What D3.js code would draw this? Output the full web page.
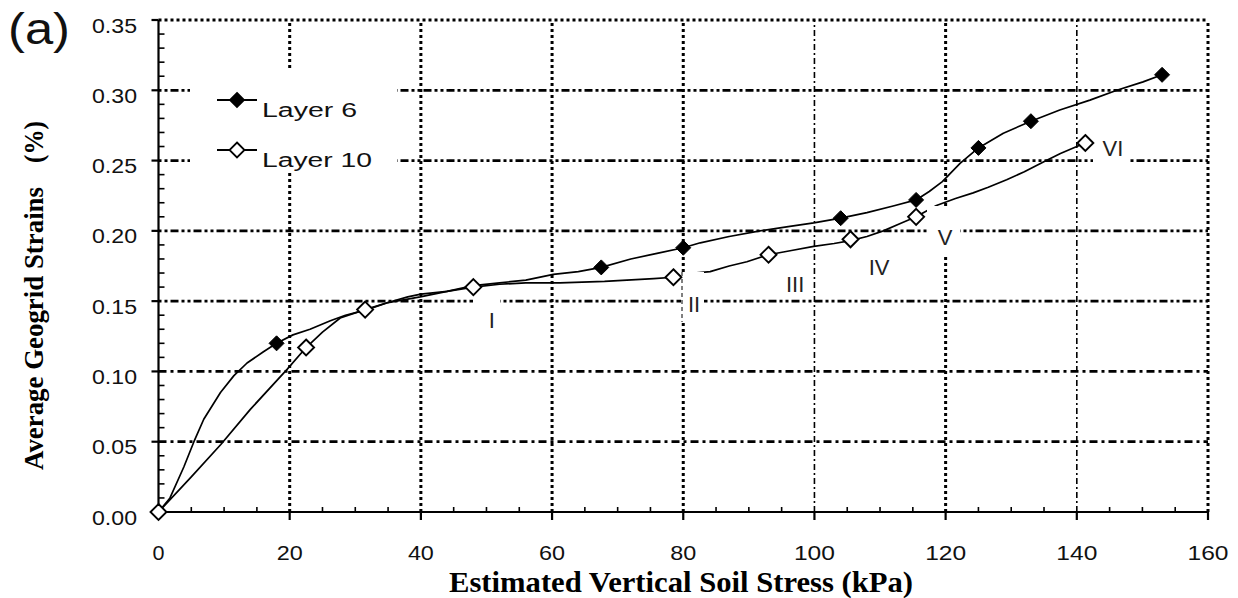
<!DOCTYPE html>
<html><head><meta charset="utf-8">
<script src="https://cdn.jsdelivr.net/npm/d3@7"></script>
<style>body{margin:0;background:#fff}svg{display:block}</style>
</head><body>
<svg id="c" width="1238" height="598"></svg>
<script>
// ---------- data ----------
const xTickValues = [0, 20, 40, 60, 80, 100, 120, 140, 160];
const xTickLabels = ["0", "20", "40", "60", "80", "100", "120", "140", "160"];
const yTickValues = [0, 0.05, 0.10, 0.15, 0.20, 0.25, 0.30, 0.35];
const yTickLabels = ["0.00", "0.05", "0.10", "0.15", "0.20", "0.25", "0.30", "0.35"];

// Layer 6 full recorded curve (stress kPa, strain %)
const layer6Stress = [0, 1.75, 3.86, 5.4, 6.9, 9.45, 11.5, 13.5, 16, 18, 20.5, 23.1, 26.2, 28.5, 31.8, 35, 38, 40, 44, 48, 52, 56, 60.2, 64, 67.5, 72, 76, 80, 82.6, 87, 91.7, 96, 99.9, 104, 108, 112, 115.5, 117.5, 119.5, 122.2, 125, 128.8, 133, 137.4, 142, 146.1, 150.1, 153];
const layer6Strain = [0, 0.010, 0.032, 0.050, 0.066, 0.085, 0.097, 0.106, 0.114, 0.120, 0.126, 0.130, 0.136, 0.140, 0.144, 0.149, 0.153, 0.155, 0.157, 0.161, 0.163, 0.165, 0.169, 0.171, 0.174, 0.180, 0.184, 0.188, 0.1915, 0.196, 0.200, 0.203, 0.2057, 0.209, 0.213, 0.2177, 0.222, 0.228, 0.235, 0.248, 0.259, 0.2695, 0.278, 0.286, 0.293, 0.300, 0.306, 0.311];
// Layer 6 marked points
const layer6MarkStress = [0, 18, 67.5, 80, 104, 115.5, 125, 133, 153];
const layer6MarkStrain = [0, 0.120, 0.174, 0.188, 0.209, 0.222, 0.259, 0.278, 0.311];

// Layer 10 full recorded curve
const layer10Stress = [0, 5, 9.5, 14, 19.6, 22.5, 25, 27.7, 31.5, 35, 39.9, 44, 48, 52, 56, 61.2, 68, 75.5, 78.5, 81.6, 84.1, 87, 89.7, 93, 96.5, 99.9, 103, 105.5, 108, 110.5, 113, 115.5, 118.6, 121.5, 124.2, 126.5, 129.3, 132, 134.9, 137.5, 140, 141.3];
const layer10Strain = [0, 0.025, 0.048, 0.073, 0.1015, 0.117, 0.128, 0.138, 0.144, 0.149, 0.153, 0.157, 0.160, 0.162, 0.163, 0.163, 0.164, 0.166, 0.167, 0.170, 0.171, 0.175, 0.178, 0.183, 0.186, 0.189, 0.191, 0.193, 0.196, 0.200, 0.205, 0.210, 0.218, 0.223, 0.227, 0.231, 0.2364, 0.242, 0.249, 0.255, 0.260, 0.2625];
// Layer 10 marked points
const layer10MarkStress = [0, 22.5, 31.5, 48, 78.5, 93, 105.5, 115.5, 141.3];
const layer10MarkStrain = [0, 0.117, 0.144, 0.160, 0.167, 0.183, 0.194, 0.210, 0.2625];

// stage annotations (label, stress, strain at baseline)
const stageLabels = ["I", "II", "III", "IV", "V", "VI"];
const stageStress = [50.8, 81.65, 97.05, 109.85, 119.9, 145.5];
const stageStrain = [0.1309, 0.1422, 0.1565, 0.1686, 0.1899, 0.2532];

const seriesNames = ["Layer 6", "Layer 10"];
const panelLabel = "(a)";
const xTitle = "Estimated Vertical Soil Stress (kPa)";
const yTitleMain = "Average Geogrid Strains";
const yTitleUnit = "(%)";

// ---------- drawing ----------
const svg = d3.select("#c");
const sans = "'Liberation Sans', Arial, sans-serif";
const serif = "'Liberation Serif', 'Times New Roman', serif";

const x = d3.scaleLinear().domain([0, 160]).range([158.5, 1208]);
const y = d3.scaleLinear().domain([0, 0.35]).range([512, 20]);

svg.append("rect").attr("width", 1238).attr("height", 598).attr("fill", "#fff");

const grid = svg.append("g");
// horizontal gridlines
grid.selectAll("line.h").data(yTickValues.filter(d => d > 0)).enter().append("line")
  .attr("x1", x(0)).attr("x2", x(160))
  .attr("y1", d => y(d)).attr("y2", d => y(d))
  .attr("stroke", "#000")
  .attr("stroke-width", d => d >= 0.349 ? 3 : 2.8)
  .attr("stroke-dasharray", d => d >= 0.349 ? "3,3" : (d < 0.12 ? "8,4,3,4" : "3,3,3,3,8,3"));
// vertical gridlines
const lightV = [100, 140];
grid.selectAll("line.v").data(xTickValues.filter(d => d > 0)).enter().append("line")
  .attr("x1", d => x(d)).attr("x2", d => x(d))
  .attr("y1", y(0)).attr("y2", y(0.35))
  .attr("stroke", "#000")
  .attr("stroke-width", d => lightV.includes(d) ? 1.6 : 3)
  .attr("stroke-dasharray", d => lightV.includes(d) ? "6,3,2,3" : "3,3");

// data lines
const line = d3.line().x(d => x(d[0])).y(d => y(d[1]));
const l6 = layer6Stress.map((v, i) => [v, layer6Strain[i]]);
const l10 = layer10Stress.map((v, i) => [v, layer10Strain[i]]);
svg.append("path").datum(l6).attr("d", line).attr("fill", "none").attr("stroke", "#000").attr("stroke-width", 1.7).attr("stroke-linejoin", "round");
svg.append("path").datum(l10).attr("d", line).attr("fill", "none").attr("stroke", "#000").attr("stroke-width", 1.7).attr("stroke-linejoin", "round");

// white boxes behind legend and labels
const boxes = [
  [190, 70, 207, 103],   // legend
  [473, 292, 27, 43],    // I
  [681, 272, 23, 50],    // II
  [927, 206, 33, 51],    // V
  [1093, 130, 35, 40]    // VI
];
svg.selectAll("rect.box").data(boxes).enter().append("rect")
  .attr("x", d => d[0]).attr("y", d => d[1]).attr("width", d => d[2]).attr("height", d => d[3])
  .attr("fill", "#fff");
// thin dashed remnant in II box
svg.append("line").attr("x1", 682).attr("x2", 682).attr("y1", 272).attr("y2", 322)
  .attr("stroke", "#000").attr("stroke-width", 1).attr("stroke-dasharray", "4,3");

// axes
const axes = svg.append("g").attr("stroke", "#000").attr("stroke-width", 2.2);
axes.append("line").attr("x1", x(0)).attr("x2", x(0)).attr("y1", y(0) + 1).attr("y2", y(0.35));
axes.append("line").attr("x1", x(0)).attr("x2", x(160)).attr("y1", y(0)).attr("y2", y(0));
// y major ticks (outside) and minor ticks (inside)
axes.selectAll("line.ym").data(yTickValues).enter().append("line")
  .attr("x1", x(0) - 7).attr("x2", x(0)).attr("y1", d => y(d)).attr("y2", d => y(d));
const yMinor = d3.range(1, 35).map(i => i / 100).filter(d => Math.round(d * 100) % 5 !== 0);
axes.selectAll("line.yn").data(yMinor).enter().append("line")
  .attr("x1", x(0)).attr("x2", x(0) + 6).attr("y1", d => y(d)).attr("y2", d => y(d)).attr("stroke-width", 1.6);
// x major ticks (outside) and minor ticks (inside)
axes.selectAll("line.xm").data(xTickValues).enter().append("line")
  .attr("x1", d => x(d)).attr("x2", d => x(d)).attr("y1", y(0)).attr("y2", y(0) + 8);
const xMinor = d3.range(5, 160, 5).filter(d => d % 20 !== 0);
axes.selectAll("line.xn").data(xMinor).enter().append("line")
  .attr("x1", d => x(d)).attr("x2", d => x(d)).attr("y1", y(0)).attr("y2", y(0) - 5).attr("stroke-width", 1.6);

// tick labels
svg.selectAll("text.yt").data(yTickValues).enter().append("text")
  .attr("x", 137 - 45).attr("y", d => y(d) + 12.5)
  .attr("textLength", 45).attr("lengthAdjust", "spacingAndGlyphs")
  .attr("font-family", sans).attr("font-size", 19.5).attr("fill", "#111")
  .text((d, i) => yTickLabels[i]);
const xLen = s => s.length === 1 ? 12 : (s.length === 2 ? 26 : 41);
svg.selectAll("text.xt").data(xTickValues).enter().append("text")
  .attr("x", (d, i) => x(d) - xLen(xTickLabels[i]) / 2).attr("y", 560)
  .attr("textLength", (d, i) => xLen(xTickLabels[i])).attr("lengthAdjust", "spacingAndGlyphs")
  .attr("font-family", sans).attr("font-size", 20).attr("fill", "#111")
  .text((d, i) => xTickLabels[i]);

// markers
const diamond = r => `M0,${-r}L${r},0L0,${r}L${-r},0Z`;
const m6 = layer6MarkStress.map((v, i) => [v, layer6MarkStrain[i]]);
const m10 = layer10MarkStress.map((v, i) => [v, layer10MarkStrain[i]]);
svg.selectAll("path.m6").data(m6).enter().append("path")
  .attr("transform", d => `translate(${x(d[0])},${y(d[1])})`)
  .attr("d", diamond(7.5)).attr("fill", "#000").attr("stroke", "#000").attr("stroke-width", 1);
svg.selectAll("path.m10").data(m10).enter().append("path")
  .attr("transform", d => `translate(${x(d[0])},${y(d[1])})`)
  .attr("d", diamond(8)).attr("fill", "#fff").attr("stroke", "#000").attr("stroke-width", 1.9);

// legend
const leg = svg.append("g");
const legRows = [{y: 100, fill: "#000", r: 7, tl: 95, name: seriesNames[0]}, {y: 150, fill: "#fff", r: 7.5, tl: 110, name: seriesNames[1]}];
legRows.forEach(r => {
  leg.append("line").attr("x1", 217).attr("x2", 257).attr("y1", r.y).attr("y2", r.y).attr("stroke", "#000").attr("stroke-width", 1.8);
  leg.append("path").attr("transform", `translate(237,${r.y})`).attr("d", diamond(r.r))
    .attr("fill", r.fill).attr("stroke", "#000").attr("stroke-width", 1.8);
  leg.append("text").attr("x", 262).attr("y", r.y + 16.5)
    .attr("textLength", r.tl).attr("lengthAdjust", "spacingAndGlyphs")
    .attr("font-family", sans).attr("font-size", 20).attr("fill", "#111").text(r.name);
});

// stage labels
svg.selectAll("text.stage").data(stageLabels).enter().append("text")
  .attr("x", (d, i) => x(stageStress[i])).attr("y", (d, i) => y(stageStrain[i]))
  .attr("text-anchor", "middle")
  .attr("font-family", sans).attr("font-size", 22).attr("fill", "#222").text(d => d);

// panel label
svg.append("text").attr("x", 8).attr("y", 44)
  .attr("textLength", 62).attr("lengthAdjust", "spacingAndGlyphs")
  .attr("font-family", sans).attr("font-size", 44).attr("fill", "#111").text(panelLabel);

// axis titles
svg.append("text").attr("x", 449).attr("y", 592)
  .attr("textLength", 464).attr("lengthAdjust", "spacingAndGlyphs")
  .attr("font-family", serif).attr("font-weight", "bold").attr("font-size", 29).attr("fill", "#000")
  .text(xTitle);
svg.append("text").attr("transform", "translate(43,470) rotate(-90)")
  .attr("x", 0).attr("y", 0)
  .attr("textLength", 283).attr("lengthAdjust", "spacingAndGlyphs")
  .attr("font-family", serif).attr("font-weight", "bold").attr("font-size", 27).attr("fill", "#000")
  .text(yTitleMain);
svg.append("text").attr("transform", "translate(43,163) rotate(-90)")
  .attr("x", 0).attr("y", 0)
  .attr("textLength", 42).attr("lengthAdjust", "spacingAndGlyphs")
  .attr("font-family", serif).attr("font-weight", "bold").attr("font-size", 27).attr("fill", "#000")
  .text(yTitleUnit);
</script>
</body></html>
